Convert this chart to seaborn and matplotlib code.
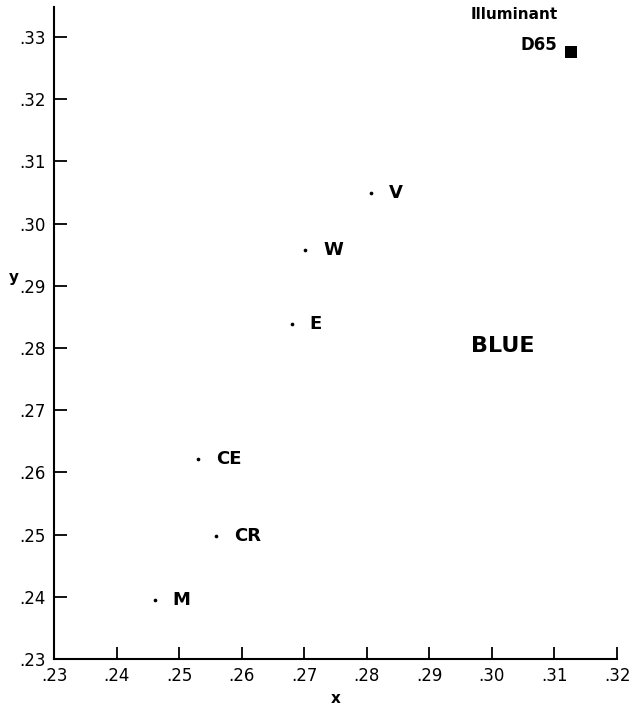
import matplotlib
matplotlib.use("Agg")
import matplotlib.pyplot as plt
import seaborn as sns
import pandas as pd

names = ["V", "W", "E", "CE", "CR", "M"]
xs = [0.2806, 0.2702, 0.2680, 0.2530, 0.2559, 0.2461]
ys = [0.3049, 0.2958, 0.2838, 0.2621, 0.2498, 0.2395]
illum_x = [0.3127]
illum_y = [0.3276]
xticks = [0.23, 0.24, 0.25, 0.26, 0.27, 0.28, 0.29, 0.30, 0.31, 0.32]
yticks = [0.23, 0.24, 0.25, 0.26, 0.27, 0.28, 0.29, 0.30, 0.31, 0.32, 0.33]
tick_labels_x = [".23", ".24", ".25", ".26", ".27", ".28", ".29", ".30", ".31", ".32"]
tick_labels_y = [".23", ".24", ".25", ".26", ".27", ".28", ".29", ".30", ".31", ".32", ".33"]

sns.set_style("ticks", {"axes.edgecolor": "black", "text.color": "black",
                        "xtick.color": "black", "ytick.color": "black",
                        "axes.labelcolor": "black"})
plt.rcParams["font.family"] = ["DejaVu Sans"]

df = pd.DataFrame({"x": xs, "y": ys, "name": names})
dfi = pd.DataFrame({"x": illum_x, "y": illum_y})

fig = plt.figure(figsize=(6.42, 7.07), dpi=100)
ax = fig.add_axes([54/642, 48/707, 563/642, 652/707])

sns.scatterplot(data=df, x="x", y="y", ax=ax, color="black", s=7, linewidth=0, legend=False)
sns.scatterplot(data=dfi, x="x", y="y", ax=ax, color="black", marker="s", s=70, linewidth=0, legend=False)

for n, xv, yv in zip(names, xs, ys):
    ax.annotate(n, (xv, yv), xytext=(13, 0), textcoords="offset points",
                ha="left", va="center", fontsize=13, fontweight="bold", color="black")

ax.annotate("D65", (illum_x[0], illum_y[0]), xytext=(-10, 5), textcoords="offset points",
            ha="right", va="center", fontsize=12, fontweight="bold", color="black")
ax.annotate("Illuminant", (illum_x[0], illum_y[0]), xytext=(-41, 27), textcoords="offset points",
            ha="center", va="center", fontsize=11, fontweight="bold", color="black")
ax.text(0.3017, 0.2803, "BLUE", ha="center", va="center", fontsize=16, fontweight="bold", color="black")

ax.set_xlim(0.23, 0.32)
ax.set_ylim(0.23, 0.3348)
ax.set_xticks(xticks)
ax.set_xticklabels(tick_labels_x)
ax.set_yticks(yticks)
ax.set_yticklabels(tick_labels_y)
ax.tick_params(direction="in", length=9, width=1.3, labelsize=12, pad=6, colors="black")
ax.set_xlabel("x", fontsize=11, fontweight="bold", labelpad=4, color="black")
ax.set_ylabel("y", fontsize=11, fontweight="bold", rotation=0, color="black")
ax.yaxis.set_label_coords(-0.071, 0.574)
sns.despine(ax=ax)
for s in ["left", "bottom"]:
    ax.spines[s].set_linewidth(1.5)
    ax.spines[s].set_color("black")

fig.savefig("out.png", dpi=100)
